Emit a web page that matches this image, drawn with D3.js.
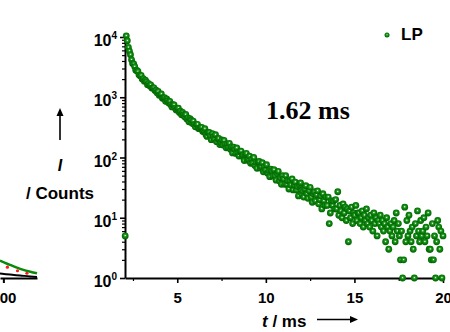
<!DOCTYPE html>
<html lang="en">
<head>
<meta charset="UTF-8">
<script src="https://d3js.org/d3.v7.min.js"></script>
<title>LP decay</title>
<style>
  body { margin: 0; background: #fff; }
  text { font-family: "Liberation Sans", Arial, sans-serif; font-weight: bold; fill: #000; }
  .axis path, .axis line { stroke: #000; }
</style>
</head>
<body>
<svg width="450" height="332"></svg>
<script>
// decay trace of LP, one sample every 0.06 ms starting at 2.06 ms
var tStart = 2.06, tStep = 0.06;
var counts = [
  5, 10470, 8680, 6712, 5808, 5096, 4185, 3648, 3574, 3223,
  2803, 2778, 2673, 2357, 2267, 2300, 2006, 2035, 1848, 1914,
  1796, 1615, 1689, 1553, 1607, 1421, 1444, 1435, 1293,
  1309, 1192, 1246, 1078, 1107, 1133, 962, 979, 984, 858,
  936, 878, 799, 852, 753, 690, 753, 749, 662, 614,
  637, 659, 560, 586, 512, 558, 513, 475, 517, 434,
  456, 392, 442, 415, 370, 402, 352, 323, 356, 356,
  303, 299, 313,
  317, 270, 279, 302, 238, 224, 260, 261, 231, 198,
  249, 221, 201, 239, 183, 204, 207, 164, 178, 196,
  161, 192, 167, 145, 167, 147, 172, 137, 150, 119,
  148, 136, 117, 144, 119, 106, 125, 128, 105, 110,
  89, 112, 117, 90, 94, 105, 80, 94, 81, 100,
  74, 83, 66, 84, 86, 67, 71, 82, 58, 70,
  62, 76, 55, 61, 48, 64, 60, 49, 63, 50,
  42, 54, 59, 41, 46, 36, 50, 44, 36, 50,
  36, 41, 30, 41, 35, 44, 29, 35,
  39, 29, 33, 23, 35, 38, 25, 28, 22, 30,
  34, 25, 21, 28, 32, 22, 18, 25, 27, 19,
  24, 28, 17, 20, 23, 14, 25, 19, 16, 22,
  16, 22, 8, 12, 19, 16, 19, 14, 20, 14,
  27, 11, 16, 13, 10, 17, 12, 15, 9, 14,
  4, 13, 10, 15, 8, 12, 11, 16, 9, 12,
  12, 8, 10, 13, 7, 11, 9, 14, 8, 10,
  7, 11, 9, 6, 12, 8, 10, 5, 9, 8,
  11, 7, 9, 6, 8, 4, 10, 7, 3, 6,
  8, 5, 7, 9, 4, 12, 6, 8, 5, 2,
  6, 1, 2, 15, 4, 9, 5, 11, 6, 4,
  7, 3, 1, 8, 5, 13, 6, 4, 9, 5,
  6, 10, 4, 7, 5, 12, 3, 3, 2, 8,
  2, 5, 1, 4, 9, 7, 3, 6, 1, 5
];
var xTicks = [5, 10, 15, 20];
var xMinor = [2.5, 7.5, 12.5, 17.5];
var yTicks = [1, 10, 100, 1000, 10000];
var seriesName = "LP";
var lifetimeLabel = "1.62 ms";

// neighbouring panel on the left, only its right edge shows
var leftT = [195, 210, 225, 240, 250];
var leftGreen = [1.95, 1.65, 1.42, 1.27, 1.20];
var leftBlack = [1.19, 1.14, 1.10, 1.06, 1.04];
var leftRedT = [206, 221, 235];
var leftRed = [1.51, 1.32, 1.20];
var leftTicks = [200];

var svg = d3.select("svg");
var x = d3.scaleLinear().domain([2.05, 20]).range([125, 443]);
var y = d3.scaleLog().domain([1, 10000]).range([278, 37]);

var data = counts.map(function(c, i) { return { t: tStart + i * tStep, c: c }; });

var defs = svg.append("defs");
var grad = defs.append("radialGradient").attr("id", "ball")
    .attr("cx", "50%").attr("cy", "45%").attr("r", "55%");
grad.append("stop").attr("offset", "0%").attr("stop-color", "#ffffff");
grad.append("stop").attr("offset", "10%").attr("stop-color", "#d0ecd0");
grad.append("stop").attr("offset", "24%").attr("stop-color", "#3aa33a");
grad.append("stop").attr("offset", "50%").attr("stop-color", "#0c870c");
grad.append("stop").attr("offset", "100%").attr("stop-color", "#006000");
defs.append("clipPath").attr("id", "leftclip")
    .append("rect").attr("x", 0).attr("y", 0).attr("width", 38).attr("height", 332);

// left panel fragment
var xl = d3.scaleLinear().domain([195, 250]).range([0, 37]);
var lp = svg.append("g").attr("clip-path", "url(#leftclip)");
var lineL = function(vals) {
  return d3.line().curve(d3.curveMonotoneX)
    .x(function(d, i) { return xl(leftT[i]); })
    .y(function(d) { return y(d); })(vals);
};
lp.append("path").attr("d", lineL(leftBlack)).attr("fill", "none")
    .attr("stroke", "#000").attr("stroke-width", 2);
lp.append("path").attr("d", lineL(leftGreen)).attr("fill", "none")
    .attr("stroke", "#0a8a0a").attr("stroke-width", 2.5);
lp.selectAll("circle").data(leftRed).enter().append("circle")
    .attr("cx", function(d, i) { return xl(leftRedT[i]); })
    .attr("cy", function(d) { return y(d); })
    .attr("r", 1.6).attr("fill", "#ff1a1a");
svg.append("g").attr("class", "axis")
    .attr("transform", "translate(0,278)")
    .call(d3.axisBottom(xl).tickValues(leftTicks).tickSize(5).tickSizeOuter(0).tickPadding(9))
    .call(function(g) {
      g.select(".domain").attr("stroke-width", 2);
      g.selectAll("line").attr("stroke-width", 2);
      g.selectAll("text").attr("font-size", 15).attr("font-family", null);
    });

// main axes
var yAxis = svg.append("g").attr("class", "axis").attr("transform", "translate(125,0)")
    .call(d3.axisLeft(y).tickValues(yTicks).tickSize(5).tickSizeOuter(0).tickFormat(""));
yAxis.select(".domain").attr("stroke-width", 2);
yAxis.selectAll("line").attr("stroke-width", 1.6);

var yMinor = [];
yTicks.slice(0, -1).forEach(function(d) { for (var k = 2; k < 10; k++) yMinor.push(d * k); });
svg.append("g").attr("class", "axis").attr("transform", "translate(125,0)")
    .call(d3.axisLeft(y).tickValues(yMinor).tickSize(3).tickSizeOuter(0).tickFormat(""))
    .call(function(g) { g.select(".domain").remove(); g.selectAll("line").attr("stroke-width", 1.2); });

svg.append("g").selectAll("text").data(yTicks).enter().append("text")
    .attr("x", 117).attr("y", function(d) { return y(d) + 9; })
    .attr("text-anchor", "end").attr("font-size", 16)
    .each(function(d) {
      var t = d3.select(this);
      t.append("tspan").text("10");
      t.append("tspan").attr("dy", -7).attr("font-size", 10).text(Math.round(Math.log10(d)));
    });

var xAxis = svg.append("g").attr("class", "axis").attr("transform", "translate(0,278)")
    .call(d3.axisBottom(x).tickValues(xTicks).tickSize(5).tickSizeOuter(0).tickPadding(9).tickFormat(d3.format("d")));
xAxis.select(".domain").attr("stroke-width", 2);
xAxis.selectAll("line").attr("stroke-width", 1.6);
xAxis.selectAll("text").attr("font-size", 15).attr("font-family", null);
svg.append("g").attr("class", "axis").attr("transform", "translate(0,278)")
    .call(d3.axisBottom(x).tickValues(xMinor).tickSize(3).tickSizeOuter(0).tickFormat(""))
    .call(function(g) { g.select(".domain").remove(); g.selectAll("line").attr("stroke-width", 1.2); });

// data
svg.append("g").selectAll("circle").data(data).enter().append("circle")
    .attr("cx", function(d) { return x(d.t); })
    .attr("cy", function(d) { return y(d.c); })
    .attr("r", 3.4)
    .attr("fill", "url(#ball)");

// legend
svg.append("circle").attr("cx", 387).attr("cy", 35).attr("r", 2.5).attr("fill", "url(#ball)");
svg.append("text").attr("x", 401).attr("y", 40).attr("font-size", 17).text(seriesName);

// lifetime annotation
svg.append("text").attr("x", 266).attr("y", 119)
    .style("font-family", "'Liberation Serif', 'Times New Roman', serif")
    .attr("font-size", 26).text(lifetimeLabel);

// axis titles with arrows
function arrow(x1, y1, x2, y2) {
  var a = Math.atan2(y2 - y1, x2 - x1), L = 8, W = 3.5;
  svg.append("line").attr("x1", x1).attr("y1", y1)
      .attr("x2", x2 - Math.cos(a) * L * 0.8).attr("y2", y2 - Math.sin(a) * L * 0.8)
      .attr("stroke", "#000").attr("stroke-width", 1.6);
  var p = [[x2, y2],
    [x2 - Math.cos(a) * L - Math.sin(a) * W, y2 - Math.sin(a) * L + Math.cos(a) * W],
    [x2 - Math.cos(a) * L + Math.sin(a) * W, y2 - Math.sin(a) * L - Math.cos(a) * W]];
  svg.append("path").attr("d", "M" + p.join("L") + "Z").attr("fill", "#000");
}
arrow(60, 140, 60, 108);
svg.append("text").attr("x", 60).attr("y", 171).attr("text-anchor", "middle")
    .attr("font-size", 16).attr("font-style", "italic").text("I");
svg.append("text").attr("x", 60).attr("y", 199).attr("text-anchor", "middle")
    .attr("font-size", 17).text("/ Counts");

var xl2 = svg.append("text").attr("x", 262).attr("y", 327).attr("font-size", 17);
xl2.append("tspan").attr("font-style", "italic").text("t");
xl2.append("tspan").text(" / ms");
arrow(317, 319.5, 358, 319.5);
</script>
</body>
</html>
